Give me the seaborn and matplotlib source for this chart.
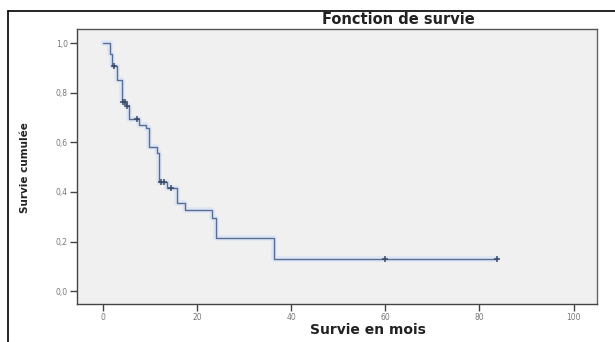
import matplotlib
matplotlib.use("Agg")
import matplotlib.pyplot as plt
from matplotlib.lines import Line2D
import seaborn as sns

# =====================
# Data
# =====================
event_times = [0, 1.5, 2.0, 3.0, 4.0, 5.0, 5.5, 7.6, 9.2, 9.9, 11.5, 12.0, 13.6, 15.7, 17.5, 23.2, 24.1, 36.3, 83.8]
survival = [1.0, 0.955, 0.906, 0.850, 0.764, 0.746, 0.693, 0.670, 0.657, 0.581, 0.556, 0.439, 0.414, 0.356, 0.327, 0.293, 0.215, 0.129, 0.129]

censor_times = [2.3, 4.3, 4.7, 5.1, 7.2, 12.4, 12.9, 14.4, 60.0, 83.8]
censor_surv = [0.906, 0.764, 0.764, 0.746, 0.693, 0.439, 0.439, 0.414, 0.129, 0.129]

x_ticks = [0, 20, 40, 60, 80, 100]
y_ticks = [0.0, 0.2, 0.4, 0.6, 0.8, 1.0]
y_tick_labels = ["0,0", "0,2", "0,4", "0,6", "0,8", "1,0"]

# =====================
# Plot
# =====================
sns.set_style("white")
plt.rcParams["font.family"] = ["DejaVu Sans"]

fig = plt.figure(figsize=(6.15, 3.42), dpi=100)
ax = fig.add_axes([0.125, 0.111, 0.846, 0.803])
ax.set_facecolor("#f0f0f0")

# faint halo like the blurred original
sns.lineplot(x=event_times, y=survival, drawstyle="steps-post", color="#dde6f4",
             linewidth=4, ax=ax, sort=False)
sns.lineplot(x=event_times, y=survival, drawstyle="steps-post", color="#5a6c94",
             linewidth=1.0, ax=ax, sort=False)
sns.scatterplot(x=censor_times, y=censor_surv, marker="+", color="#3c4a66",
                s=16, linewidth=1.1, ax=ax, zorder=5)

ax.set_xlim(-5.5, 105)
ax.set_ylim(-0.052, 1.055)
ax.set_xticks(x_ticks)
ax.set_xticklabels([str(v) for v in x_ticks])
ax.set_yticks(y_ticks)
ax.set_yticklabels(y_tick_labels)
ax.tick_params(axis="both", which="major", direction="out", length=5, width=1,
               color="#444444", labelsize=5.5, labelcolor="#777777", pad=1.5)
ax.tick_params(axis="x", bottom=True)
ax.tick_params(axis="y", left=True)

for side, sp in ax.spines.items():
    sp.set_visible(True)
    sp.set_linewidth(1.0)
    sp.set_color("#666666" if side in ("right", "top") else "#444444")
ax.spines["top"].set_color("#555555")

ax.set_xlabel("")
ax.set_ylabel("")
fig.text(0.598, 0.035, "Survie en mois", ha="center", va="center",
         fontsize=10, fontweight="bold", color="#222222")
fig.text(0.041, 0.51, "Survie cumulée", ha="center", va="center", rotation=90,
         fontsize=7.5, fontweight="bold", color="#222222")
fig.text(0.648, 0.942, "Fonction de survie", ha="center", va="center",
         fontsize=10.5, fontweight="bold", color="#222222")

# outer frame (left and top edges of the original screenshot)
fig.add_artist(Line2D([0.013, 0.013], [0.0, 0.968], transform=fig.transFigure,
                      color="black", linewidth=1.2))
fig.add_artist(Line2D([0.013, 1.0], [0.968, 0.968], transform=fig.transFigure,
                      color="black", linewidth=1.2))

fig.savefig("out.png", dpi=100, facecolor="white")
